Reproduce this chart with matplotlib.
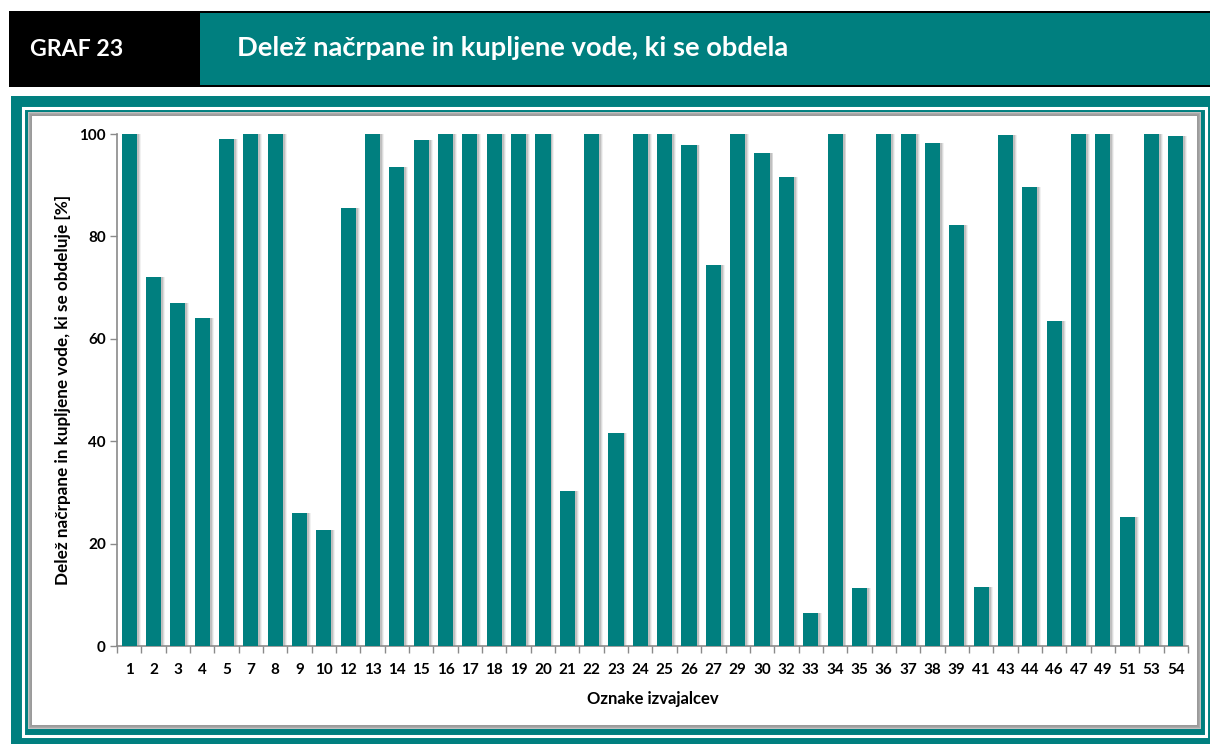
import matplotlib
matplotlib.use("Agg")
import matplotlib.pyplot as plt
from matplotlib.patches import Rectangle
import numpy as np

categories = ["1", "2", "3", "4", "5", "7", "8", "9", "10", "12", "13", "14", "15", "16",
              "17", "18", "19", "20", "21", "22", "23", "24", "25", "26", "27", "29", "30",
              "32", "33", "34", "35", "36", "37", "38", "39", "41", "43", "44", "46", "47",
              "49", "51", "53", "54"]
values = [100, 72.1, 67.0, 64.0, 99.0, 100, 100, 25.9, 22.7, 85.5, 100, 93.5, 98.8, 100,
          100, 100, 100, 100, 30.3, 100, 41.6, 100, 100, 97.8, 74.5, 100, 96.2,
          91.6, 6.4, 100, 11.3, 100, 100, 98.3, 82.2, 11.5, 99.8, 89.6, 63.5, 100,
          100, 25.1, 100, 99.7]
yticks = [0, 20, 40, 60, 80, 100]

header_label = "GRAF 23"
title = "Delež načrpane in kupljene vode, ki se obdela"
ylabel = "Delež načrpane in kupljene vode, ki se obdeluje [%]"
xlabel = "Oznake izvajalcev"

TEAL = "#007F7F"
FONT = ["Lato", "DejaVu Sans"]
plt.rcParams["font.family"] = FONT

W, H = 1210, 744
fig = plt.figure(figsize=(W / 100, H / 100), dpi=100)

# background decoration axes in pixel coords
bg = fig.add_axes([0, 0, 1, 1], zorder=0)
bg.set_xlim(0, W)
bg.set_ylim(H, 0)
bg.axis("off")

# header
bg.add_patch(Rectangle((9, 11), W - 9, 76, color="black", lw=0))
bg.add_patch(Rectangle((200, 13), W - 200, 72, color=TEAL, lw=0))
bg.text(30, 49, header_label, color="white", fontsize=16.7, fontweight="bold",
        va="center", ha="left")
bg.text(237, 48, title, color="white", fontsize=19.7, fontweight="bold",
        va="center", ha="left")

# frame
bg.add_patch(Rectangle((11, 96), W - 11, H - 96, color=TEAL, lw=0))
bg.add_patch(Rectangle((23, 107.5), 1183, 628, fill=False, ec="white", lw=2.2))
# inner panel with soft shadow edge
bg.add_patch(Rectangle((28, 112), 1173, 617, color="#f2f2f2", lw=0))
for i, a in enumerate([0.35, 0.25, 0.16, 0.08]):
    bg.add_patch(Rectangle((28 + i, 112 + i), 1173 - 2 * i, 617 - 2 * i,
                           color=(0.4, 0.4, 0.4, a), lw=0))
bg.add_patch(Rectangle((32, 116), 1165, 609, color="white", lw=0))

# plot axes
left, right = 117 / W, 1188 / W
bottom, top = (H - 646) / H, (H - 134) / H
ax = fig.add_axes([left, bottom, right - left, top - bottom], zorder=1)
ax.set_facecolor("none")

x = np.arange(len(categories))
bw = 0.62
# bar shadows
for off, a in [(0.16, 0.10), (0.12, 0.18), (0.08, 0.28)]:
    ax.bar(x + off, values, width=bw, color="#7a7a7a", alpha=a, lw=0, zorder=2)
ax.bar(x, values, width=bw, color=TEAL, lw=0, zorder=3)

ax.set_xlim(-0.5, len(categories) - 0.5)
ax.set_ylim(0, 100)
ax.set_yticks(yticks)
ax.set_yticklabels([str(v) for v in yticks], fontsize=11, fontweight="bold")
ax.set_xticks(x)
ax.set_xticklabels(categories, fontsize=11, fontweight="bold")
ax.set_xticks(np.arange(len(categories) + 1) - 0.5, minor=True)
ax.tick_params(axis="x", which="major", length=0, pad=12)
ax.tick_params(axis="x", which="minor", length=5, color="#8a8a8a", width=1)
ax.tick_params(axis="y", which="major", length=5, color="#8a8a8a", width=1, pad=3)
for s in ["top", "right"]:
    ax.spines[s].set_visible(False)
for s in ["left", "bottom"]:
    ax.spines[s].set_color("#8a8a8a")
    ax.spines[s].set_linewidth(1.2)

ax.set_xlabel(xlabel, fontsize=12, fontweight="bold", labelpad=10)
ax.set_ylabel(ylabel, fontsize=12.3, fontweight="bold", labelpad=6)

fig.savefig("out.png", dpi=100)
